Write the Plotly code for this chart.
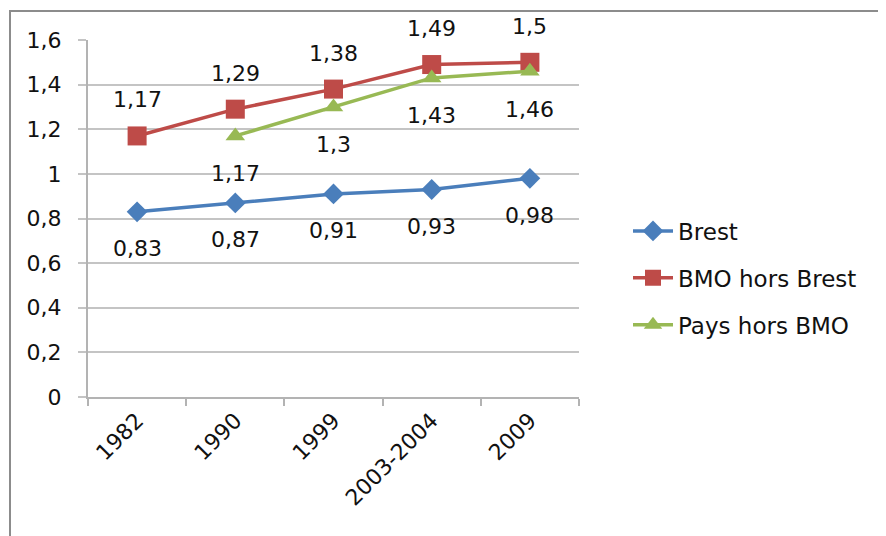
import plotly.graph_objects as go

categories = ["1982", "1990", "1999", "2003-2004", "2009"]
brest = [0.83, 0.87, 0.91, 0.93, 0.98]
bmo_hors_brest = [1.17, 1.29, 1.38, 1.49, 1.5]
pays_hors_bmo = [None, 1.17, 1.3, 1.43, 1.46]
y_tickvals = [0, 0.2, 0.4, 0.6, 0.8, 1, 1.2, 1.4, 1.6]
y_ticktext = ["0", "0,2", "0,4", "0,6", "0,8", "1", "1,2", "1,4", "1,6"]

FONT = "DejaVu Sans, Liberation Sans, Arial, sans-serif"
TXT = "#111111"
C_BLUE = "#4A7EBB"
C_RED = "#BE4B48"
C_GREEN = "#98B954"

def fmt(v):
    return ("%g" % v).replace(".", ",")

fig = go.Figure()
series = [
    ("Brest", brest, C_BLUE, "diamond", 16, -37),
    ("BMO hors Brest", bmo_hors_brest, C_RED, "square", 19, 36),
    ("Pays hors BMO", pays_hors_bmo, C_GREEN, "triangle-up", 17, -38),
]
for name, vals, col, sym, ms, shift in series:
    fig.add_trace(go.Scatter(
        x=categories, y=vals, name=name, mode="lines+markers",
        line=dict(color=col, width=3.5),
        marker=dict(symbol=sym, size=ms, color=col),
        legendgroup=name,
        connectgaps=False,
    ))
    for i, v in enumerate(vals):
        if v is None:
            continue
        fig.add_annotation(x=i, y=v, xref="x", yref="y", text=fmt(v),
                           showarrow=False, yshift=shift,
                           font=dict(family=FONT, size=22, color=TXT))

# chart-area border (body margin of 8px shifts the whole figure)
L, T, PW, PH = 80, 32, 491, 357
fig.add_shape(type="rect", xref="paper", yref="paper",
              x0=(2 - L) / PW, x1=(900 - L) / PW,
              y0=(T + PH - 560) / PH, y1=(T + PH - 3) / PH,
              line=dict(color="#8c8c8c", width=2), layer="below")

fig.update_layout(
    width=886, height=536,
    margin=dict(l=L, r=886 - L - PW, t=T, b=536 - T - PH),
    paper_bgcolor="white", plot_bgcolor="white",
    font=dict(family=FONT, size=22, color=TXT),
    showlegend=True,
    legend=dict(x=(628 - 88) / PW, xanchor="left", y=(397 - 278) / PH, yanchor="middle",
                font=dict(family=FONT, size=23, color=TXT),
                tracegroupgap=14, itemwidth=40, bgcolor="rgba(0,0,0,0)"),
    xaxis=dict(type="category", range=[-0.5, 4.5], tickangle=-45,
               showgrid=False, showline=True, linecolor="#b3b3b3", linewidth=2,
               ticks="outside", tickson="boundaries", ticklen=7, tickcolor="#b3b3b3", tickwidth=2,
               tickfont=dict(family=FONT, size=22, color=TXT)),
    yaxis=dict(range=[0, 1.6], tickvals=y_tickvals, ticktext=y_ticktext,
               showgrid=True, gridcolor="#c4c4c4", gridwidth=2,
               showline=True, linecolor="#b3b3b3", linewidth=2, zeroline=False,
               ticks="outside", ticklen=8, tickcolor="#c4c4c4", tickwidth=2,
               ticklabelstandoff=12,
               tickfont=dict(family=FONT, size=22, color=TXT)),
)

fig.write_html("out.html")
